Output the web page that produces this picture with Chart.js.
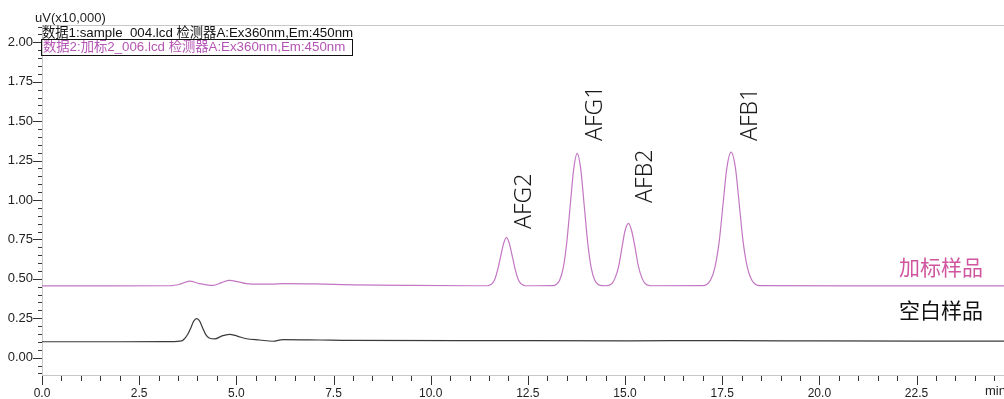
<!DOCTYPE html>
<html>
<head>
<meta charset="utf-8">
<script src="https://cdn.jsdelivr.net/npm/chart.js@4.4.1/dist/chart.umd.min.js"></script>
<style>
  body { margin: 0; background: #fff; }
</style>
</head>
<body>
<canvas id="cromatograma" width="1004" height="399"></canvas>
<script>
// =====================================================
// DADOS (lidos do cromatograma)
// =====================================================
// 加标样品 (amostra fortificada) - tempo em min, sinal em uV x10,000
const spikedTime = [
  0, 1.5, 3.3, 3.55, 3.8, 4.05, 4.4, 4.62, 4.82, 5.05, 5.26, 5.6, 5.94, 6.2, 7.0, 8.0, 9.5, 11.0,
  11.42, 11.5, 11.58, 11.65, 11.72, 11.8, 11.88, 11.95, 12.02, 12.1, 12.18, 12.25, 12.32, 12.4, 12.48,
  13.14, 13.23, 13.32, 13.41, 13.5, 13.59, 13.68, 13.77, 13.86, 13.95, 14.04, 14.13, 14.22, 14.31, 14.4,
  14.5, 14.58, 14.67, 14.75, 14.84, 14.92, 15.0, 15.09, 15.17, 15.26, 15.34, 15.43, 15.51, 15.6, 15.68,
  17.0, 17.1, 17.2, 17.31, 17.42, 17.52, 17.62, 17.73, 17.84, 17.94, 18.04, 18.15, 18.26, 18.36, 18.46,
  21.0, 24.75
];
const spikedSignal = [
  0.455, 0.455, 0.456, 0.466, 0.485, 0.470, 0.458, 0.476, 0.490, 0.481, 0.470, 0.466, 0.467, 0.470, 0.468, 0.462, 0.458, 0.456,
  0.456, 0.458, 0.469, 0.497, 0.555, 0.642, 0.727, 0.763, 0.727, 0.642, 0.555, 0.497, 0.469, 0.458, 0.456,
  0.457, 0.464, 0.492, 0.569, 0.728, 0.965, 1.197, 1.296, 1.197, 0.965, 0.728, 0.569, 0.492, 0.464, 0.457,
  0.456, 0.459, 0.472, 0.509, 0.584, 0.696, 0.805, 0.852, 0.805, 0.696, 0.584, 0.509, 0.472, 0.459, 0.456,
  0.457, 0.464, 0.492, 0.570, 0.731, 0.970, 1.204, 1.304, 1.204, 0.970, 0.731, 0.570, 0.492, 0.464, 0.457,
  0.455, 0.455
];

// 空白样品 (branco)
const blankTime = [
  0, 2.0, 3.3, 3.6, 3.67, 3.75, 3.83, 3.9, 3.98, 4.06, 4.13, 4.21, 4.3, 4.45,
  4.62, 4.82, 5.02, 5.26, 5.6, 5.94, 6.2, 7.15, 7.92, 11.34, 15.0, 17.7, 20.0, 24.75
];
const blankSignal = [
  0.101, 0.101, 0.102, 0.107, 0.121, 0.148, 0.190, 0.230, 0.247, 0.230, 0.190, 0.148, 0.125, 0.119,
  0.137, 0.148, 0.137, 0.120, 0.112, 0.104, 0.115, 0.112, 0.109, 0.108, 0.107, 0.108, 0.106, 0.105
];

// picos identificados
const peakNames = ["AFG2", "AFG1", "AFB2", "AFB1"];

// ticks com rotulo
const xTicks = [0, 2.5, 5, 7.5, 10, 12.5, 15, 17.5, 20, 22.5];
const yTicks = [0, 0.25, 0.5, 0.75, 1.0, 1.25, 1.5, 1.75, 2.0];

const seriesNames = ["加标样品", "空白样品"];
const fileLines = [
  "数据1:sample_004.lcd 检测器A:Ex360nm,Em:450nm",
  "数据2:加标2_006.lcd 检测器A:Ex360nm,Em:450nm"
];

const FONT = '"Liberation Sans", "Noto Sans CJK SC", sans-serif';

// =====================================================
// DECORACAO (ticks menores, textos, rotulos dos picos)
// =====================================================
const decoracao = {
  id: "decoracao",
  afterDraw(chart) {
    const { ctx, chartArea: area, scales: { x, y } } = chart;
    ctx.save();

    // borda superior
    ctx.strokeStyle = "#c8c8c8";
    ctx.lineWidth = 1;
    ctx.beginPath();
    ctx.moveTo(area.left, area.top + 0.5);
    ctx.lineTo(area.right, area.top + 0.5);
    ctx.stroke();

    // ticks do eixo Y (maior 0.25, menor 0.05)
    ctx.strokeStyle = "#333";
    ctx.beginPath();
    for (let i = -2; i <= 42; i++) {
      const py = Math.round(y.getPixelForValue(i * 0.05)) + 0.5;
      const len = i % 5 === 0 ? 9 : 4;
      ctx.moveTo(area.left - len, py);
      ctx.lineTo(area.left, py);
    }
    // ticks do eixo X (maior 2.5, menor 0.5)
    for (let i = 0; i <= 49; i++) {
      const px = Math.round(x.getPixelForValue(i * 0.5)) + 0.5;
      const len = i % 5 === 0 ? 9 : 5;
      ctx.moveTo(px, area.bottom + 1);
      ctx.lineTo(px, area.bottom + 1 + len);
    }
    ctx.stroke();

    // unidade dos eixos
    ctx.fillStyle = "#222";
    ctx.font = "13px " + FONT;
    ctx.textBaseline = "alphabetic";
    ctx.textAlign = "left";
    ctx.fillText("uV(x10,000)", 35, 22);
    ctx.textBaseline = "top";
    ctx.fillText("min", 985, 385);

    // arquivos
    ctx.font = "13.3px " + FONT;
    ctx.textBaseline = "alphabetic";
    ctx.fillStyle = "#111";
    ctx.fillText(fileLines[0], 42, 37);
    ctx.fillStyle = "#b455b4";
    ctx.fillText(fileLines[1], 43, 51);
    ctx.strokeStyle = "#111";
    ctx.strokeRect(41.5, 39.5, 311, 16);

    // nomes das series
    ctx.font = "21px " + FONT;
    ctx.textAlign = "center";
    ctx.textBaseline = "middle";
    ctx.fillStyle = "#d0559f";
    ctx.fillText(seriesNames[0], 941, 269);
    ctx.fillStyle = "#111";
    ctx.fillText(seriesNames[1], 941, 312);

    // rotulos dos picos (verticais)
    const anchors = [[12.41, 0.816], [14.25, 1.374], [15.53, 0.981], [18.23, 1.374]];
    ctx.font = '300 23px "Noto Sans", ' + FONT;
    ctx.fillStyle = "#1a1a1a";
    ctx.textAlign = "left";
    anchors.forEach((a, i) => {
      ctx.save();
      ctx.translate(x.getPixelForValue(a[0]), y.getPixelForValue(a[1]));
      ctx.rotate(-Math.PI / 2);
      ctx.fillText(peakNames[i], 0, 0);
      ctx.restore();
    });

    ctx.restore();
  }
};

// =====================================================
// GRAFICO
// =====================================================
const toPoints = (t, s) => t.map((v, i) => ({ x: v, y: s[i] }));

new Chart(document.getElementById("cromatograma"), {
  type: "line",
  data: {
    datasets: [
      {
        label: seriesNames[1],
        data: toPoints(blankTime, blankSignal),
        borderColor: "#3a3a3a",
        borderWidth: 1.2,
        pointRadius: 0,
        cubicInterpolationMode: "monotone"
      },
      {
        label: seriesNames[0],
        data: toPoints(spikedTime, spikedSignal),
        borderColor: "#c377c3",
        borderWidth: 1.2,
        pointRadius: 0,
        cubicInterpolationMode: "monotone"
      }
    ]
  },
  options: {
    responsive: false,
    animation: false,
    devicePixelRatio: 1,
    layout: { padding: { top: 25, right: 0, left: 0, bottom: 0 } },
    plugins: { legend: { display: false }, tooltip: { enabled: false } },
    scales: {
      x: {
        type: "linear",
        min: 0,
        max: 24.75,
        grid: { display: false, drawTicks: false },
        border: { display: true, color: "#c8c8c8" },
        afterBuildTicks: s => { s.ticks = xTicks.map(v => ({ value: v })); },
        afterFit: s => { s.height = 24; },
        ticks: {
          autoSkip: false,
          maxRotation: 0,
          padding: 11,
          color: "#222",
          font: { family: FONT, size: 12 },
          callback: v => Number(v).toFixed(1)
        }
      },
      y: {
        min: -0.11,
        max: 2.11,
        grid: { display: false, drawTicks: false },
        border: { display: true, color: "#c8c8c8" },
        afterBuildTicks: s => { s.ticks = yTicks.map(v => ({ value: v })); },
        afterFit: s => { s.width = 42; },
        ticks: {
          padding: 9,
          color: "#222",
          font: { family: FONT, size: 13 },
          callback: v => Number(v).toFixed(2)
        }
      }
    }
  },
  plugins: [decoracao]
});
</script>
</body>
</html>
